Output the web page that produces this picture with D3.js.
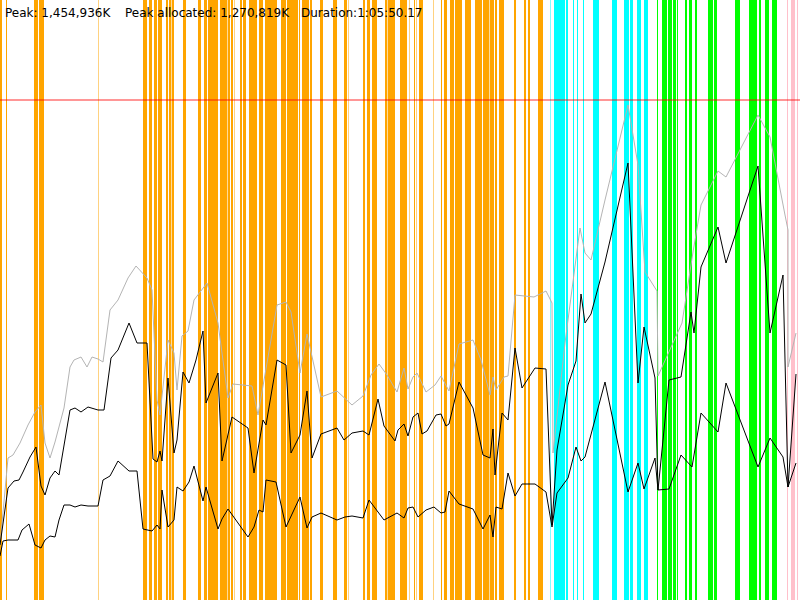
<!DOCTYPE html>
<html>
<head>
<meta charset="UTF-8">
<title>Memory timeline</title>
<style>
  body { margin: 0; background: #fff; overflow: hidden; }
  svg { display: block; }
  .info { font-family: "DejaVu Sans", sans-serif; font-size: 12px; fill: #000; }
</style>
</head>
<body>
<div class="chartBox"></div>

<script src="https://d3js.org/d3.v7.min.js"></script>
<script>
// header texts
const infoLabels = ["Peak: 1,454,936K", "Peak allocated: 1,270,819K", "Duration:1:05:50.17"];

// heap limit (MB)
const heapLimitMB = 1500;

// GC events: [start (s), duration (s)]
const gcOrange = [
  [0,10],[30,5],[170,20],[195,25],[490,2.5],[715,20],[745,15],[770,15],[790,20],
  [830,10],[845,10],[858,12],[915,15],[990,15],[1020,15],[1040,50],[1100,35],
  [1138,12],[1155,10],[1170,2.5],[1200,10],[1215,15],[1245,40],[1295,20],
  [1325,60],[1405,25],[1435,55],[1495,5],[1510,35],[1550,10],[1600,15],
  [1665,20],[1720,15],[1740,2.5],[1815,10],[1835,15],[1860,25],[1925,10],
  [1938,37],[2000,35],[2045,2.5],[2070,5],[2080,2.5],[2095,20],[2165,2.5],
  [2205,5],[2220,15],[2250,20],[2275,35],[2325,30],[2375,35],[2415,30],
  [2448,22],[2475,10],[2495,25],[2570,10],[2620,10],[2640,10],[2690,25]
];
const gcCyan = [
  [2750,2.5],[2770,55],[2830,10],[2865,5],[2885,5],[2915,5],[2965,30],
  [3060,25],[3120,25],[3150,15],[3185,20],[3220,20]
];
const gcGreen = [
  [3285,5],[3310,25],[3340,20],[3365,15],[3385,5],[3425,10],[3445,15],
  [3475,10],[3540,25],[3570,15],[3675,25],[3745,40],[3795,10],[3825,20],[3860,25]
];
const gcPink = [[3935,5],[3955,20],[3985,5]];

// committed heap: [time (s), MB]
const committed = [
  [0,165],[40,426],[65,435],[100,471],[140,525],[175,564],[205,585],[225,471],
  [250,426],[275,474],[320,576],[350,699],[370,720],[405,729],[435,699],[460,729],
  [490,723],[515,714],[550,870],[590,900],[640,966],[680,1002],[735,966],[760,930],
  [785,600],[800,555],[840,780],[870,741],[885,630],[910,792],[940,807],[970,900],
  [1035,951],[1090,831],[1140,606],[1165,648],[1260,642],[1290,555],[1385,885],
  [1430,894],[1455,864],[1500,681],[1535,798],[1605,609],[1685,627],[1760,585],
  [1815,612],[1855,675],[1895,708],[1935,675],[1985,624],[2020,696],[2040,633],
  [2065,669],[2085,681],[2130,624],[2175,645],[2205,672],[2245,627],[2295,768],
  [2365,780],[2405,720],[2450,615],[2465,669],[2480,630],[2520,669],[2540,672],
  [2575,915],[2670,909],[2730,927],[2760,891],[2765,441],[2825,771],[2900,1116],
  [2925,1041],[2955,1020],[3025,1200],[3140,1485],[3190,1305],[3225,984],
  [3285,927],[3290,672],[3410,831],[3465,1044],[3505,1185],[3590,1287],
  [3630,1269],[3790,1455],[3850,1389],[3925,1155],[3940,1110],[3940,699],[3980,801]
];

// allocated before GC: [time (s), MB]
const allocated = [
  [0,165],[40,336],[70,357],[95,360],[115,384],[150,429],[180,459],[205,342],
  [225,315],[250,366],[275,387],[295,375],[350,570],[375,576],[405,564],[440,579],
  [490,570],[520,570],[555,726],[590,750],[645,831],[685,771],[735,771],[765,423],
  [785,414],[800,447],[810,417],[840,666],[870,441],[885,480],[915,684],[945,651],
  [980,720],[1015,807],[1030,591],[1090,681],[1110,417],[1160,549],[1240,516],
  [1270,381],[1315,540],[1330,525],[1385,720],[1430,705],[1455,441],[1500,495],
  [1535,627],[1560,426],[1605,498],[1685,516],[1720,480],[1760,501],[1815,507],
  [1845,495],[1890,603],[1920,522],[1975,477],[1990,510],[2020,528],[2040,492],
  [2065,549],[2090,561],[2110,498],[2135,507],[2180,555],[2205,558],[2230,522],
  [2245,528],[2295,654],[2365,576],[2415,435],[2450,426],[2465,513],[2475,375],
  [2510,561],[2540,540],[2575,756],[2610,636],[2675,696],[2730,693],[2760,225],
  [2785,450],[2840,645],[2880,717],[2905,918],[2925,831],[2955,858],[3025,1014],
  [3140,1311],[3190,651],[3220,819],[3275,666],[3290,330],[3345,660],[3405,669],
  [3455,864],[3470,801],[3505,999],[3590,1119],[3630,1011],[3790,1302],[3850,801],
  [3915,975],[3940,339],[3980,678]
];

// live after GC: [time (s), MB]
const live = [
  [0,132],[15,177],[40,180],[90,180],[110,210],[145,228],[175,165],[205,156],
  [225,180],[250,192],[275,189],[295,240],[320,285],[350,285],[375,279],[405,285],
  [440,282],[490,282],[515,360],[550,372],[590,417],[645,387],[685,387],[715,213],
  [760,207],[785,225],[800,213],[810,330],[840,219],[870,240],[885,339],[915,327],
  [945,354],[970,402],[1015,297],[1030,339],[1090,213],[1110,243],[1140,273],
  [1240,189],[1270,219],[1295,270],[1315,264],[1330,360],[1380,354],[1430,219],
  [1500,309],[1535,216],[1560,249],[1605,261],[1685,240],[1725,249],[1760,252],
  [1815,246],[1845,300],[1920,240],[1985,261],[2020,246],[2040,276],[2065,279],
  [2090,249],[2130,270],[2170,279],[2205,261],[2225,264],[2245,327],[2295,288],
  [2365,273],[2415,213],[2450,255],[2465,189],[2480,279],[2510,273],[2540,381],
  [2575,312],[2610,348],[2675,348],[2730,324],[2760,219],[2785,321],[2840,366],
  [2880,459],[2905,417],[2925,429],[3025,654],[3140,324],[3190,411],[3220,333],
  [3275,426],[3290,330],[3345,333],[3405,435],[3460,399],[3505,561],[3590,504],
  [3630,651],[3790,399],[3850,486],[3915,429],[3940,339],[3980,411]
];

const width = 800, height = 600;

const svg = d3.select(".chartBox")
  .append("svg")
  .attr("width", width)
  .attr("height", height);

const xScale = d3.scaleLinear().domain([0, 4000]).range([0, width]);
const yScale = d3.scaleLinear().domain([0, 1800]).range([height, 0]);

// GC bars
const barSets = [
  { data: gcOrange, color: "#ffa500" },
  { data: gcCyan, color: "#00ffff" },
  { data: gcGreen, color: "#00ff00" },
  { data: gcPink, color: "#ffc0cb" }
];
barSets.forEach(set => {
  svg.append("g").selectAll("rect")
    .data(set.data)
    .enter()
    .append("rect")
    .attr("x", d => xScale(d[0]))
    .attr("y", 0)
    .attr("width", d => xScale(d[0] + d[1]) - xScale(d[0]))
    .attr("height", height)
    .attr("fill", set.color);
});

// heap limit line
svg.append("line")
  .attr("x1", 0)
  .attr("x2", width)
  .attr("y1", yScale(heapLimitMB))
  .attr("y2", yScale(heapLimitMB))
  .attr("stroke", "#ff0000")
  .attr("stroke-opacity", 0.55)
  .attr("stroke-width", 1.5);

// lines
const line = d3.line()
  .x(d => xScale(d[0]))
  .y(d => yScale(d[1]));

svg.append("path")
  .datum(committed)
  .attr("d", line)
  .attr("fill", "none")
  .attr("stroke", "#b4b4b4")
  .attr("stroke-width", 1);

svg.append("path")
  .datum(allocated)
  .attr("d", line)
  .attr("fill", "none")
  .attr("stroke", "#000")
  .attr("stroke-width", 1);

svg.append("path")
  .datum(live)
  .attr("d", line)
  .attr("fill", "none")
  .attr("stroke", "#000")
  .attr("stroke-width", 1);

// header text
const infoX = [5, 125, 301];
svg.selectAll(".info")
  .data(infoLabels)
  .enter()
  .append("text")
  .attr("class", "info")
  .attr("x", (d, i) => infoX[i])
  .attr("y", 17)
  .text(d => d);
</script>
</body>
</html>
